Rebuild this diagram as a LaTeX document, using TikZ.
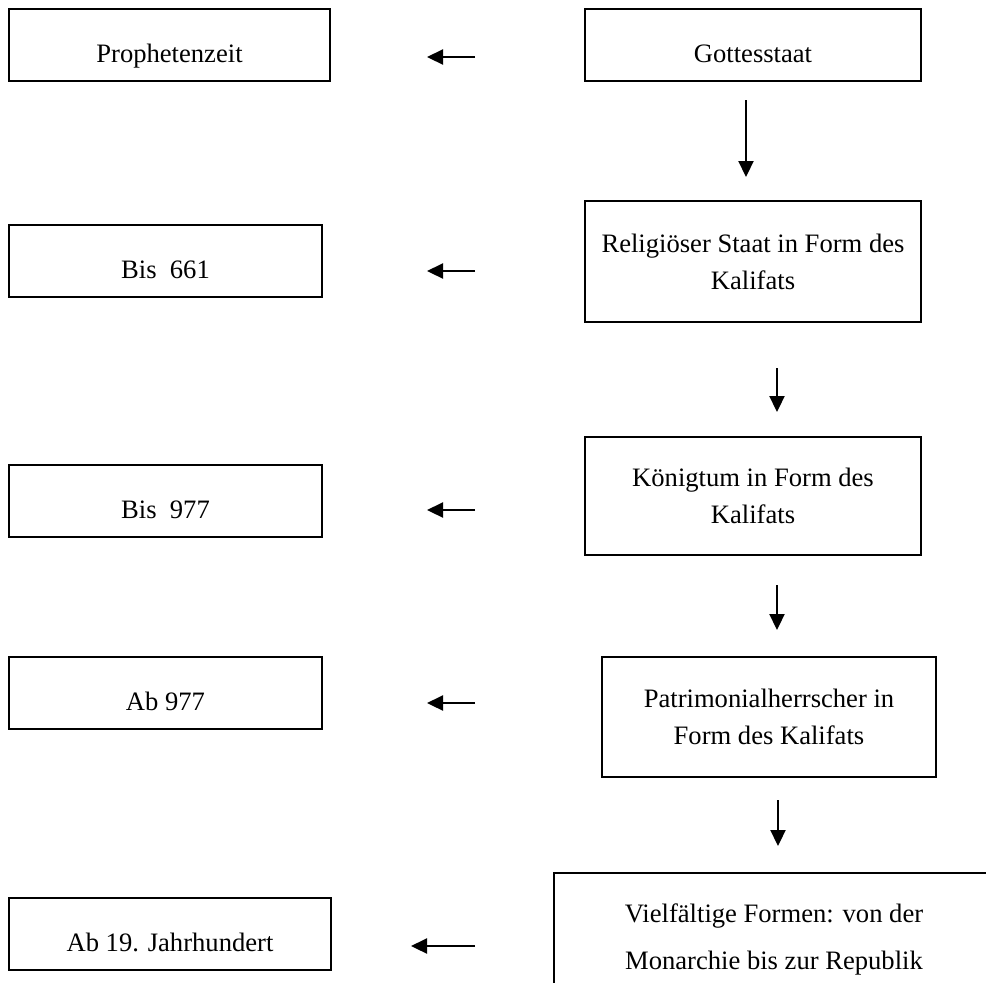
\documentclass[tikz,border=0pt]{standalone}
\usepackage{fontspec}
\setmainfont{Liberation Serif}
\usetikzlibrary{arrows.meta}

\begin{document}
\begin{tikzpicture}[x=0.5pt,y=-0.5pt,->,>={Triangle[length=8pt,width=7.5pt]},line width=1.1pt,kasten/.style={-,draw,line width=1.1pt,inner sep=0pt,font=\fontsize{13.3}{18.5}\selectfont},zeit/.style={kasten,minimum width=#1,text height=26.5pt,text depth=9.5pt},form/.style={kasten,align=center,minimum width=168pt,minimum height=#1}]
		\clip (0,0) rectangle (986,982);
		\useasboundingbox (0,0) rectangle (986,982);

		\node[zeit=160.5pt] (proph) at (169.5,45) {Prophetenzeit};
		\node[zeit=156.5pt] (bis661) at (165.5,261) {Bis\ \ 661};
		\node[zeit=156.5pt] (bis977) at (165.5,501) {Bis\ \ 977};
		\node[zeit=156.5pt] (ab977) at (165.5,693) {Ab 977};
		\node[zeit=161pt] (ab19) at (170,934) {Ab 19. Jahrhundert};

		\node[zeit=168pt] (gott) at (753,45) {Gottesstaat};
		\node[form=60.5pt] (relig) at (753,261.5) {Religiöser Staat in Form des\\Kalifats};
		\node[form=59pt] (koenig) at (753,496) {Königtum in Form des\\Kalifats};
		\node[form=60pt,minimum width=167pt] (patri) at (769,717) {Patrimonialherrscher in\\Form des Kalifats};
		\node[form=66.5pt,minimum width=220pt,font=\fontsize{13.3}{23.5}\selectfont] (vielf) at (774,939.5) {Vielfältige Formen: von der\\Monarchie bis zur Republik};

		% Pfeile nach links
		\coordinate (l1a) at (475,57);  \coordinate (l1b) at (427,57);
		\coordinate (l2a) at (475,271); \coordinate (l2b) at (427,271);
		\coordinate (l3a) at (475,510); \coordinate (l3b) at (427,510);
		\coordinate (l4a) at (475,703); \coordinate (l4b) at (427,703);
		\coordinate (l5a) at (475,946); \coordinate (l5b) at (411,946);
		\draw (l1a) -- (l1b);
		\draw (l2a) -- (l2b);
		\draw (l3a) -- (l3b);
		\draw (l4a) -- (l4b);
		\draw (l5a) -- (l5b);

		% Pfeile nach unten
		\coordinate (d1a) at (746,100); \coordinate (d1b) at (746,177);
		\coordinate (d2a) at (777,368); \coordinate (d2b) at (777,412);
		\coordinate (d3a) at (777,585); \coordinate (d3b) at (777,630);
		\coordinate (d4a) at (778,800); \coordinate (d4b) at (778,846);
		\draw (d1a) -- (d1b);
		\draw (d2a) -- (d2b);
		\draw (d3a) -- (d3b);
		\draw (d4a) -- (d4b);

		\end{tikzpicture}
\end{document}
